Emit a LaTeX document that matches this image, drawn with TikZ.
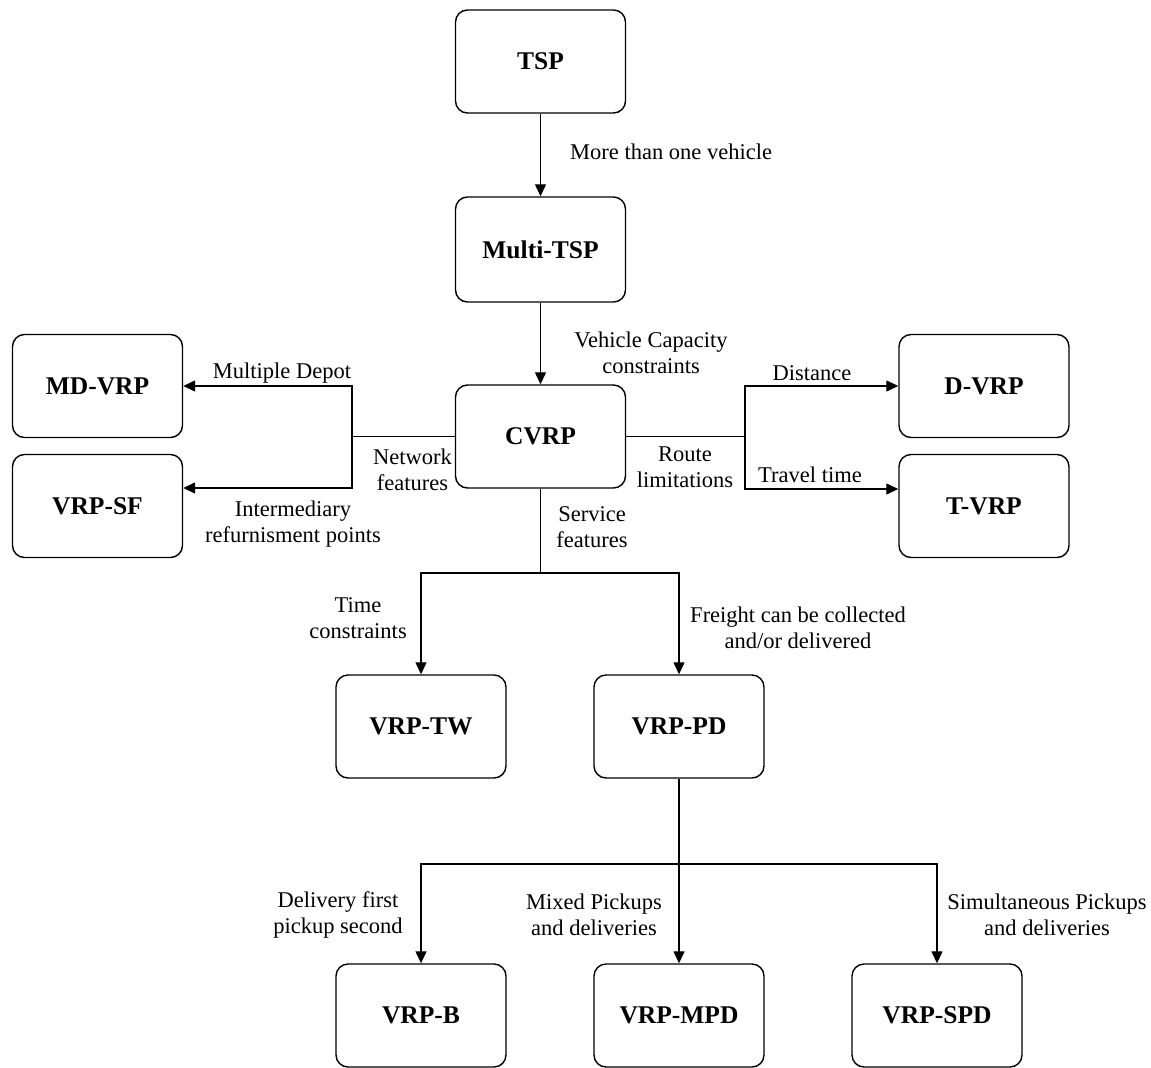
\documentclass[tikz,border=0pt]{standalone}
\usepackage{fontspec}
\setmainfont{Liberation Serif}
\usetikzlibrary{arrows.meta}
\begin{document}
\begin{tikzpicture}[x=1pt,y=-1pt,
  box/.style={draw, line width=1.4pt, rounded corners=12pt, minimum width=170pt,
    minimum height=103pt, inner sep=0pt, font=\fontsize{25.5}{30}\selectfont\bfseries},
  lbl/.style={inner sep=0pt, align=center, font=\fontsize{22.5}{26}\selectfont},
  conn/.style={line width=1.3pt},
  arr/.style={conn, -{Triangle[length=12pt,width=11pt]}}]
\useasboundingbox (0,0) rectangle (1151,1068);

% boxes
\node[box] (tsp) at (540.5,61.5) {TSP};
\node[box, minimum height=105pt] (mtsp) at (540.5,249.5) {Multi-TSP};
\node[box] (cvrp) at (540.5,436.5) {CVRP};
\node[box] (mdvrp) at (97.5,386) {MD-VRP};
\node[box] (vrpsf) at (97.5,506) {VRP-SF};
\node[box] (dvrp) at (984,386) {D-VRP};
\node[box] (tvrp) at (984,506) {T-VRP};
\node[box] (vrptw) at (421,726.5) {VRP-TW};
\node[box] (vrppd) at (679,726.5) {VRP-PD};
\node[box] (vrpb) at (421,1015.5) {VRP-B};
\node[box] (vrpmpd) at (679,1015.5) {VRP-MPD};
\node[box] (vrpspd) at (937,1015.5) {VRP-SPD};

% junction points
\coordinate (nl) at (352,436.5);
\coordinate (rl) at (745,436.5);
\coordinate (sj) at (540.5,573);
\coordinate (pj) at (679,864);

% connectors
\draw[arr] (tsp) -- (mtsp);
\draw[arr] (mtsp) -- (cvrp);
\draw[conn] (cvrp.west) -- (nl);
\draw[arr] (nl) |- (mdvrp.east);
\draw[arr] (nl) |- ([yshift=18pt]vrpsf.east);
\draw[conn] (cvrp.east) -- (rl);
\draw[arr] (rl) |- (dvrp.west);
\draw[arr] (rl) |- ([yshift=17pt]tvrp.west);
\draw[conn] (cvrp.south) -- (sj);
\draw[arr] (sj) -| (vrptw.north);
\draw[arr] (sj) -| (vrppd.north);
\draw[arr] (vrppd.south) -- (vrpmpd.north);
\draw[arr] (pj) -| (vrpb.north);
\draw[arr] (pj) -| (vrpspd.north);

% labels
\node[lbl, anchor=west] (l1) at (570,152) {More than one vehicle};
\node[lbl] (l2) at (651,353) {Vehicle Capacity\\constraints};
\node[lbl] (l3) at (282,373) {Multiple Depot};
\node[lbl] (l4) at (412.5,470) {Network\\features};
\node[lbl] (l5) at (293,524) {Intermediary\\refurnisment points};
\node[lbl] (l6) at (812,373) {Distance};
\node[lbl] (l7) at (685,467) {Route\\limitations};
\node[lbl] (l8) at (810,475) {Travel time};
\node[lbl] (l9) at (592,527) {Service\\features};
\node[lbl] (l10) at (358,618) {Time\\constraints};
\node[lbl] (l11) at (798,628) {Freight can be collected\\and/or delivered};
\node[lbl] (l12) at (338,915) {Delivery first\\pickup second};
\node[lbl] (l13) at (594,915) {Mixed Pickups\\and deliveries};
\node[lbl] (l14) at (1047,915) {Simultaneous Pickups\\and deliveries};
\end{tikzpicture}
\end{document}
